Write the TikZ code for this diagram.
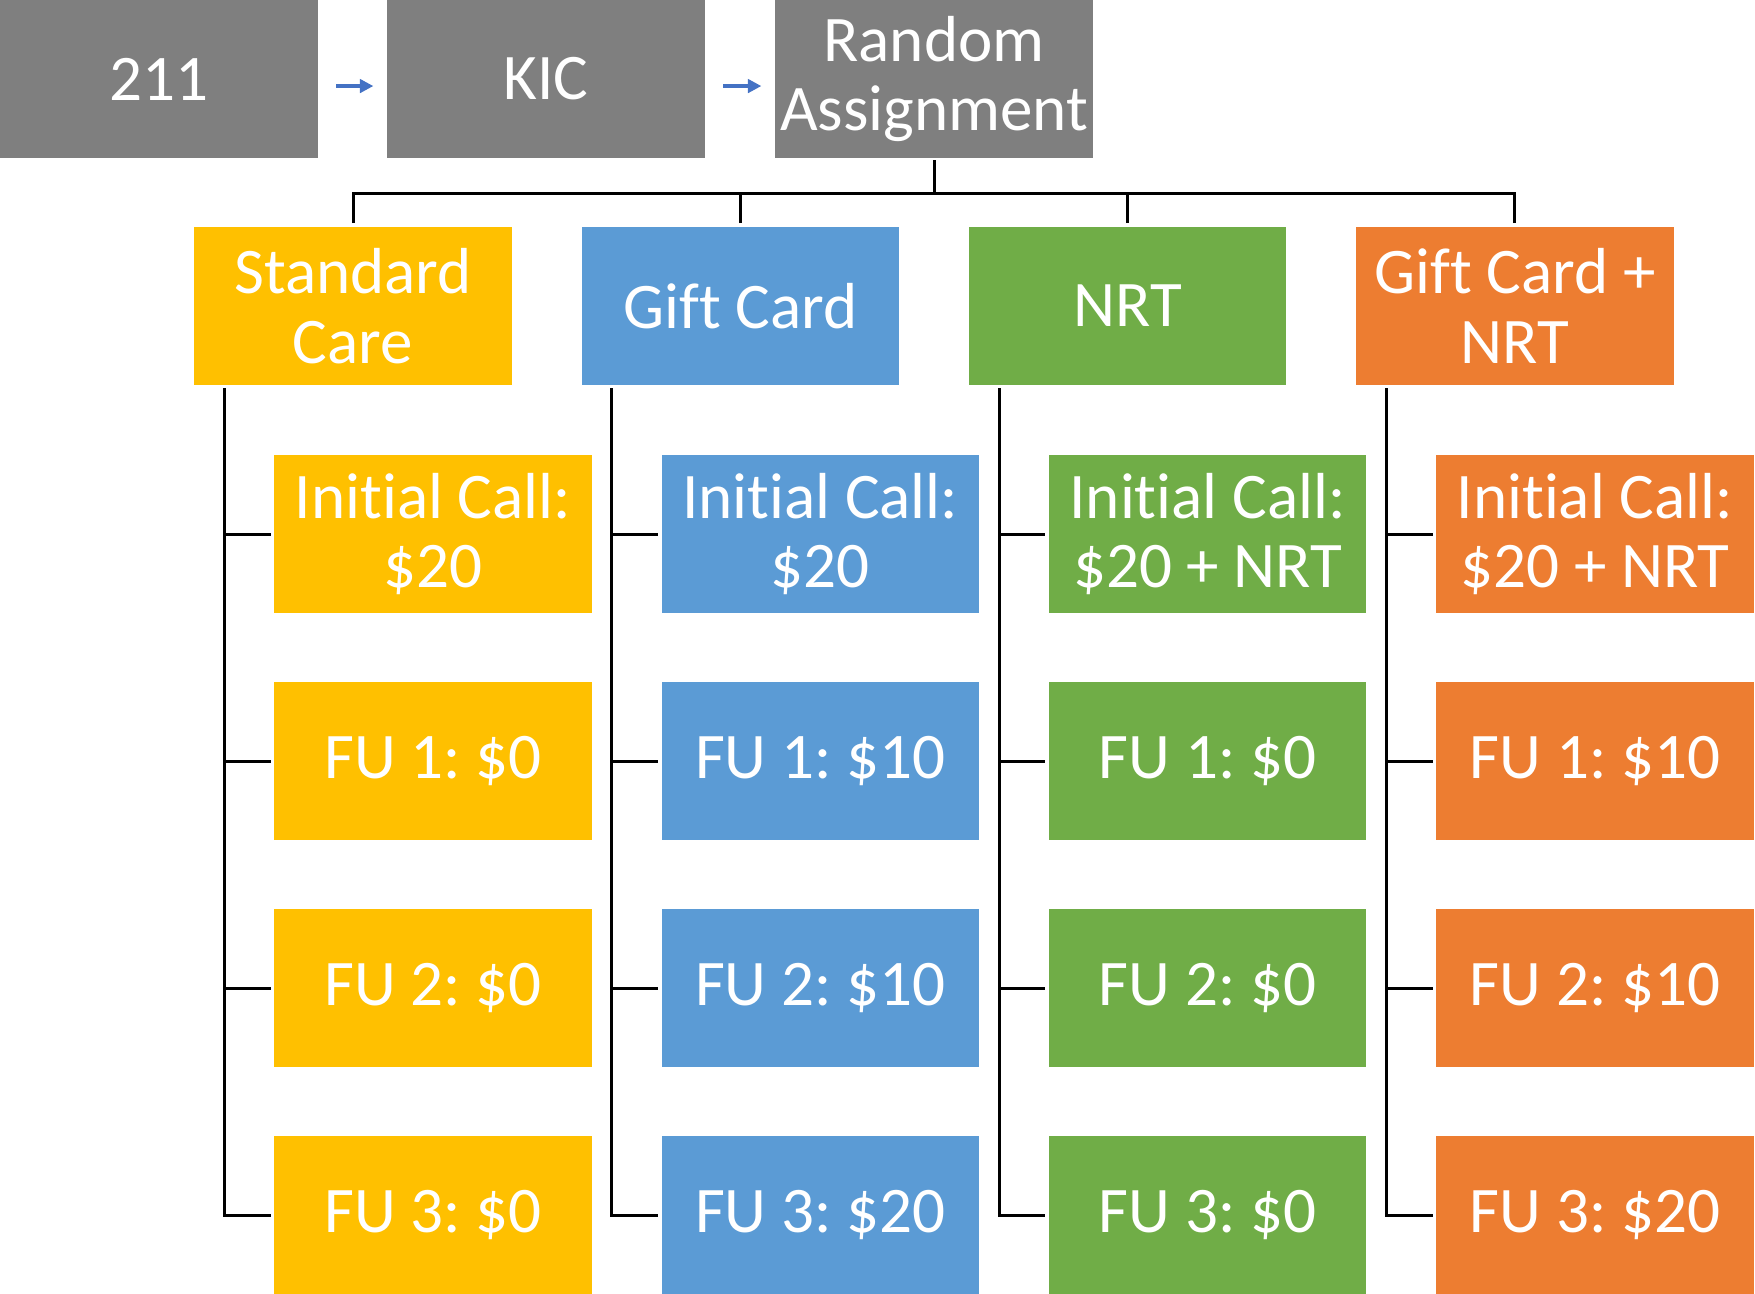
\documentclass[tikz,border=0pt]{standalone}
\usepackage{fontspec}
\setmainfont{Carlito}[Ligatures = NoCommon]
\frenchspacing
\usepackage{tikz}
\usetikzlibrary{arrows.meta, calc}
\definecolor{grigio}{HTML}{7F7F7F}
\definecolor{giallo}{HTML}{FFC000}
\definecolor{blu}{HTML}{5B9BD5}
\definecolor{verde}{HTML}{70AD47}
\definecolor{arancio}{HTML}{ED7D31}
\definecolor{frecciablu}{HTML}{4472C4}

\begin{document}
\begin{tikzpicture}[x = 0.01cm, y = -0.01cm,
    scatola/.style = {fill = #1, text = white, align = center, inner sep = 0pt,
        minimum width = 3.17cm, minimum height = 1.57cm,
        font = \fontsize{18.5}{19.7}\selectfont},
    linea/.style = {line width = 0.85pt},
    freccia/.style = {draw = frecciablu, line width = 0.9pt, -{Triangle[length = 3.8pt, width = 3.8pt]},
        shorten <= 5.1pt, shorten >= 3.8pt}]
    % Parametri
    \pgfmathsetmacro{\passo}{387.3}
    \pgfmathsetmacro{\riga}{227}
    \useasboundingbox (0,0) rectangle (1755,1293);
    % Riga in alto
    \node[scatola = grigio] (n211) at (159,79) {211};
    \node[scatola = grigio] (kic) at (546,79) {KIC};
    \node[scatola = grigio] (ra) at (934,79) {Random\\Assignment};
    \draw[freccia] ([yshift = -2pt]n211.east) -- ([yshift = -2pt]kic.west);
    \draw[freccia] ([yshift = -2pt]kic.west -| kic.east) -- ([yshift = -2pt]ra.west);
    \coordinate (snodo) at (934,193);
    \draw[linea] ([yshift = -0.5pt]ra.south) -- (snodo);
    % Bracci
    \foreach \i/\col/\titolo/\ini/\fa/\fb/\fc in {
        1/giallo/{Standard\\Care}/{\$20}/0/0/0,
        2/blu/{Gift Card}/{\$20}/10/10/20,
        3/verde/NRT/{\$20 + NRT}/0/0/0,
        4/arancio/{Gift Card +\\NRT}/{\$20 + NRT}/10/10/20}{
        \pgfmathsetmacro{\xb}{353 + \passo*(\i - 1)}
        \node[scatola = \col] (b\i) at (\xb,306) {\titolo};
        \node[scatola = \col] (c\i-1) at (\xb + 80,534) {Initial Call:\\\ini};
        \node[scatola = \col] (c\i-2) at (\xb + 80,534 + \riga) {FU 1: \$\fa};
        \node[scatola = \col] (c\i-3) at (\xb + 80,534 + 2*\riga) {FU 2: \$\fb};
        \node[scatola = \col] (c\i-4) at (\xb + 80,534 + 3*\riga) {FU 3: \$\fc};
        \draw[linea] ([yshift = 1pt]b\i.north) |- (snodo);
        \coordinate (s\i) at (\xb - 128.5,388);
        \draw[linea] (s\i) |- ([xshift = -0.85pt]c\i-4.west);
        \foreach \k in {1,2,3}
            \draw[linea] (s\i |- c\i-\k.west) -- ([xshift = -0.85pt]c\i-\k.west);
    }
\end{tikzpicture}
\end{document}
